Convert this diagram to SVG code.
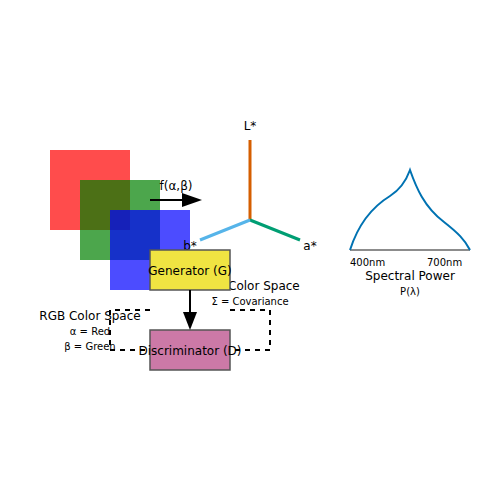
<svg xmlns="http://www.w3.org/2000/svg" width="500" height="500" viewBox="0 0 500 500">
<style>
text{font-family:"DejaVu Sans",sans-serif;fill:#000}
.t12{font-size:12px}
.t10{font-size:10px}
.box{stroke:#555;stroke-width:1.5}
.dash{fill:none;stroke:#000;stroke-width:2;stroke-dasharray:5,5}
</style>
<rect width="500" height="500" fill="#fff"/>
<g id="rgb-squares">
<rect x="50" y="150" width="80" height="80" fill="#ff0000" fill-opacity="0.7"/>
<rect x="80" y="180" width="80" height="80" fill="#008000" fill-opacity="0.7"/>
<rect x="110" y="210" width="80" height="80" fill="#0000ff" fill-opacity="0.7"/>
</g>
<g id="lab-axes" stroke-width="3">
<line x1="250" y1="220" x2="250" y2="140" stroke="#D55E00"/>
<line x1="250" y1="220" x2="300" y2="240" stroke="#009E73"/>
<line x1="250" y1="220" x2="200" y2="240" stroke="#56B4E9"/>
<text x="250" y="130" class="t12" text-anchor="middle">L*</text>
<text x="310" y="250" class="t12" text-anchor="middle">a*</text>
<text x="190" y="250" class="t12" text-anchor="middle">b*</text>
</g>
<g id="lab-label">
<text x="228" y="290" class="t12">Color Space</text>
<text x="250" y="305" class="t10" text-anchor="middle">Σ = Covariance</text>
</g>
<g id="spectral">
<line x1="350" y1="250" x2="470" y2="250" stroke="#666" stroke-width="1.5"/>
<path d="M350,250 C358,225 372,207 390,196 C401,189 406,181 410,170 C416,187 424,207 444,222 C458,233 465,240 470,250" fill="none" stroke="#0072B2" stroke-width="2"/>
<text x="350" y="266" class="t10">400nm</text>
<text x="427" y="266" class="t10">700nm</text>
<text x="410" y="280" class="t12" text-anchor="middle">Spectral Power</text>
<text x="410" y="295" class="t10" text-anchor="middle">P(λ)</text>
</g>
<g id="rgb-label">
<text x="90" y="320" class="t12" text-anchor="middle">RGB Color Space</text>
<text x="90" y="335" class="t10" text-anchor="middle">α = Red</text>
<text x="90" y="350" class="t10" text-anchor="middle">β = Green</text>
</g>
<g id="generator">
<rect x="150" y="250" width="80" height="40" fill="#F0E442" class="box"/>
<text x="190" y="275" class="t12" text-anchor="middle">Generator (G)</text>
</g>
<g id="discriminator">
<rect x="150" y="330" width="80" height="40" fill="#CC79A7" class="box"/>
<text x="190" y="355" class="t12" text-anchor="middle">Discriminator (D)</text>
</g>
<g id="connectors">
<line x1="150" y1="200" x2="184" y2="200" stroke="#000" stroke-width="2"/>
<polygon points="182,193 202,200 182,207" fill="#000"/>
<text x="176" y="190" class="t12" text-anchor="middle">f(α,β)</text>
<line x1="190" y1="290" x2="190" y2="314" stroke="#000" stroke-width="2"/>
<polygon points="183,312 197,312 190,330" fill="#000"/>
<polyline points="150,310 110,310 110,350 150,350" class="dash"/>
<polyline points="230,310 270,310 270,350 230,350" class="dash"/>
</g>
</svg>
